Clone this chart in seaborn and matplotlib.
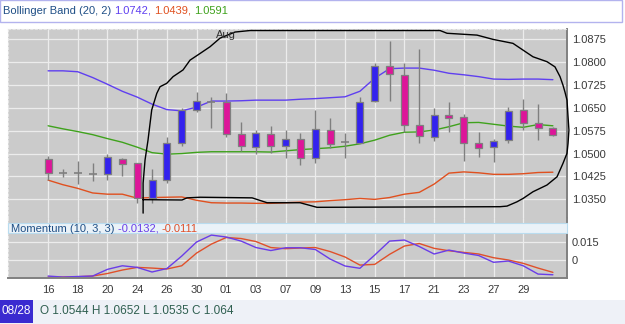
"""Bollinger band candlestick chart with a momentum sub-panel."""
import matplotlib

matplotlib.use("Agg")
import matplotlib.pyplot as plt  # noqa: E402
import matplotlib.transforms as mtransforms  # noqa: E402
import numpy as np  # noqa: E402
import pandas as pd  # noqa: E402
import seaborn as sns  # noqa: E402
from matplotlib.patches import Rectangle  # noqa: E402

sns.set_theme(style="white")
plt.rcParams["font.family"] = ["Liberation Sans", "DejaVu Sans"]

# ---------------------------------------------------------------------------
# data (Jul 16 - Aug 31, daily)
# ---------------------------------------------------------------------------
days = ["16", "17", "18", "19", "20", "23", "24", "25", "26", "27", "30", "31",
        "01", "02", "03", "06", "07", "08", "09", "10", "13", "14", "15", "16",
        "17", "20", "21", "22", "23", "24", "27", "28", "29", "30", "31"]
opens = [1.0481, 1.0439, 1.0436, 1.0434, 1.0432, 1.0483, 1.0468, 1.0356, 1.0413,
         1.0536, 1.0642, 1.0672, 1.0669, 1.0563, 1.0520, 1.0563, 1.0524, 1.0549,
         1.0486, 1.0577, 1.0539, 1.0535, 1.0673, 1.0787, 1.0758, 1.0595, 1.0555,
         1.0625, 1.0621, 1.0533, 1.0520, 1.0544, 1.0642, 1.0600, 1.0585]
highs = [1.0492, 1.0449, 1.0475, 1.0468, 1.0497, 1.0485, 1.0469, 1.0449, 1.0555,
         1.0648, 1.0702, 1.0686, 1.0699, 1.0602, 1.0577, 1.0590, 1.0577, 1.0566,
         1.0642, 1.0615, 1.0566, 1.0686, 1.0797, 1.0869, 1.0797, 1.0842, 1.0650,
         1.0668, 1.0631, 1.0570, 1.0549, 1.0652, 1.0679, 1.0662, 1.0586]
lows = [1.0415, 1.0422, 1.0400, 1.0411, 1.0415, 1.0427, 1.0338, 1.0338, 1.0402,
        1.0525, 1.0637, 1.0584, 1.0555, 1.0509, 1.0500, 1.0502, 1.0487, 1.0462,
        1.0469, 1.0517, 1.0484, 1.0533, 1.0670, 1.0673, 1.0571, 1.0533, 1.0542,
        1.0571, 1.0475, 1.0489, 1.0473, 1.0535, 1.0577, 1.0546, 1.0559]
closes = [1.0435, 1.0437, 1.0435, 1.0433, 1.0489, 1.0465, 1.0356, 1.0412, 1.0536,
          1.0642, 1.0673, 1.0670, 1.0563, 1.0524, 1.0566, 1.0524, 1.0549, 1.0486,
          1.0582, 1.0531, 1.0537, 1.0669, 1.0787, 1.0762, 1.0594, 1.0557, 1.0625,
          1.0617, 1.0533, 1.0519, 1.0542, 1.0640, 1.0600, 1.0585, 1.0560]

bb_upper = [1.0771, 1.0771, 1.0768, 1.0749, 1.0727, 1.0704, 1.0685, 1.0662, 1.0644,
            1.0640, 1.0652, 1.0672, 1.0672, 1.0673, 1.0675, 1.0675, 1.0675, 1.0678,
            1.0680, 1.0683, 1.0686, 1.0704, 1.0747, 1.0778, 1.0780, 1.0780, 1.0773,
            1.0763, 1.0758, 1.0752, 1.0744, 1.0743, 1.0744, 1.0744, 1.0742]
bb_middle = [1.0591, 1.0581, 1.0572, 1.0562, 1.0549, 1.0537, 1.0521, 1.0503, 1.0498,
             1.0500, 1.0504, 1.0506, 1.0506, 1.0506, 1.0506, 1.0505, 1.0509, 1.0513,
             1.0516, 1.0519, 1.0524, 1.0532, 1.0544, 1.0560, 1.0570, 1.0571, 1.0577,
             1.0588, 1.0601, 1.0602, 1.0596, 1.0590, 1.0586, 1.0595, 1.0591]
bb_lower = [1.0413, 1.0398, 1.0386, 1.0371, 1.0367, 1.0367, 1.0354, 1.0356, 1.0357,
            1.0358, 1.0347, 1.0339, 1.0338, 1.0338, 1.0337, 1.0337, 1.0339, 1.0341,
            1.0342, 1.0346, 1.0349, 1.0353, 1.0350, 1.0356, 1.0367, 1.0373, 1.0400,
            1.0436, 1.0440, 1.0437, 1.0432, 1.0432, 1.0434, 1.0438, 1.0439]

momentum = [-0.0143, -0.0152, -0.0147, -0.0143, -0.0085, -0.0054, -0.0068, -0.0108,
            -0.0078, 0.0030, 0.0152, 0.0212, 0.0195, 0.0160, 0.0104, 0.0078, 0.0102,
            0.0102, 0.0087, 0.0004, -0.0056, -0.0076, 0.0039, 0.0160, 0.0169, 0.0113,
            0.0048, 0.0082, 0.0056, 0.0035, -0.0024, -0.0013, -0.0054, -0.0126, -0.0132]
momentum_signal = [-0.0152, -0.0152, -0.0149, -0.0143, -0.0121, -0.0091, -0.0068,
                   -0.0074, -0.0082, -0.0054, 0.0056, 0.0134, 0.0191, 0.0182, 0.0156,
                   0.0104, 0.0094, 0.0100, 0.0104, 0.0069, 0.0022, -0.0048, -0.0042,
                   0.0045, 0.0117, 0.0139, 0.0097, 0.0076, 0.0062, 0.0048, 0.0016,
                   -0.0004, -0.0033, -0.0074, -0.0111]

# hand-drawn annotation loop (candle index, price)
loop_x = [6.40, 6.40, 6.53, 6.73, 6.98, 7.32, 7.54, 7.99, 8.42, 9.09, 9.56, 10.24,
          10.91, 11.58, 12.59, 13.60, 26.40, 26.87, 28.89, 29.97, 31.31, 32.66,
          33.60, 34.14, 34.48, 34.68, 34.81, 34.95, 35.02, 35.08, 35.02, 34.95,
          34.68, 34.28, 33.60, 32.66, 31.99, 31.58, 30.91, 30.44, 18.11, 16.97,
          14.75, 13.74, 10.24, 9.36, 9.02, 6.40]
loop_y = [1.0305, 1.0403, 1.0479, 1.0544, 1.0643, 1.0697, 1.0719, 1.0730, 1.0752,
          1.0774, 1.0806, 1.0828, 1.0850, 1.0878, 1.0898, 1.0903, 1.0903, 1.0894,
          1.0888, 1.0874, 1.0861, 1.0817, 1.0801, 1.0784, 1.0752, 1.0724, 1.0702,
          1.0675, 1.0621, 1.0577, 1.0533, 1.0501, 1.0468, 1.0424, 1.0397, 1.0375,
          1.0353, 1.0342, 1.0328, 1.0326, 1.0324, 1.0339, 1.0339, 1.0355, 1.0357,
          1.0355, 1.0348, 1.0349]

price_ticks = [1.0350, 1.0425, 1.0500, 1.0575, 1.0650, 1.0725, 1.0800, 1.0875]
mom_ticks = [0.0, 0.015, 0.03]
mom_tick_labels = ["0", "0.015", ""]

# ---------------------------------------------------------------------------
# colours
# ---------------------------------------------------------------------------
BG = "#cbcbcb"
GRID = "#ececec"
UP_C = "#3322ee"
DOWN_C = "#dd1599"
WICK = "#7f7f7f"
UPPER_C = "#5f3ff0"
MID_C = "#3fa21c"
LOWER_C = "#e0501f"
MOM_C = "#6a3de8"
SIG_C = "#e0502a"
LABEL_C = "#1f4f86"
TICK_C = "#3a3a3a"

W, H = 625, 324
fig = plt.figure(figsize=(W / 100, H / 100), dpi=100)
fig.patch.set_facecolor("white")

left, right = 8, 567
ax = fig.add_axes([left / W, 1 - 218 / H, (right - left) / W, (218 - 29) / H])
axm = fig.add_axes([left / W, 1 - 278 / H, (right - left) / W, (278 - 218) / H])

df = pd.DataFrame({
    "i": np.arange(len(days)), "open": opens, "high": highs, "low": lows,
    "close": closes, "upper": bb_upper, "middle": bb_middle, "lower": bb_lower,
    "mom": momentum, "signal": momentum_signal,
})

xlim = (-2.7, 34.95)
tick_idx = list(range(0, len(days) - 2, 2))

for a in (ax, axm):
    a.set_facecolor(BG)
    a.set_xlim(*xlim)
    a.set_xticks(tick_idx)
    a.grid(True, color=GRID, lw=0.9)
    a.set_axisbelow(True)
    a.tick_params(length=0, labelsize=8, colors=TICK_C)
    a.yaxis.tick_right()
    for s in ("left", "top"):
        a.spines[s].set_color("#e6e6e6")
        a.spines[s].set_linestyle((0, (2, 2)))
        a.spines[s].set_linewidth(0.8)
    a.spines["right"].set_color("#808080")
    a.spines["right"].set_linewidth(1.4)

ax.spines["bottom"].set_visible(False)
axm.spines["top"].set_visible(False)
axm.spines["bottom"].set_color("#808080")
axm.spines["bottom"].set_linewidth(1.4)

# ---------------------------------------------------------------------------
# price panel
# ---------------------------------------------------------------------------
ax.set_ylim(1.0289, 1.0908)
ax.set_yticks(price_ticks)
ax.set_yticklabels([f"{v:.4f}" for v in price_ticks])
ax.set_xticklabels([])
ax.tick_params(axis="y", pad=3.5)

sns.lineplot(data=df, x="i", y="upper", color=UPPER_C, lw=1, ax=ax, legend=False)
sns.lineplot(data=df, x="i", y="middle", color=MID_C, lw=1, ax=ax, legend=False)
sns.lineplot(data=df, x="i", y="lower", color=LOWER_C, lw=1, ax=ax, legend=False)

ax.vlines(df["i"], df["low"], df["high"], color=WICK, lw=1, zorder=3)
body_w = 0.47
for r in df.itertuples():
    if abs(r.close - r.open) < 0.0004:
        ax.hlines(r.close, r.i - 0.27, r.i + 0.27, color=WICK, lw=1.2, zorder=4)
        continue
    col = UP_C if r.close > r.open else DOWN_C
    ax.bar(r.i, abs(r.close - r.open), bottom=min(r.open, r.close), width=body_w,
           color=col, edgecolor=WICK, linewidth=0.9, zorder=4)

ax.plot(loop_x, loop_y, color="black", lw=1, clip_on=False, zorder=6)

trans = mtransforms.blended_transform_factory(ax.transData, ax.transAxes)
ax.text(days.index("01"), 0.968, "Aug", transform=trans, ha="center", va="center",
        fontsize=8, color="#333333", zorder=7)
ax.set_xlabel("")
ax.set_ylabel("")

# ---------------------------------------------------------------------------
# momentum panel
# ---------------------------------------------------------------------------
axm.set_ylim(-0.0160, 0.0360)
axm.set_yticks(mom_ticks)
axm.set_yticklabels(mom_tick_labels)
axm.set_xticklabels([days[i] for i in tick_idx])
axm.tick_params(axis="x", pad=5)
axm.tick_params(axis="y", pad=3.5)
sns.lineplot(data=df, x="i", y="signal", color=SIG_C, lw=1, ax=axm, legend=False)
sns.lineplot(data=df, x="i", y="mom", color=MOM_C, lw=1, ax=axm, legend=False)
axm.set_xlabel("")
axm.set_ylabel("")
axm.add_patch(Rectangle((0, 0.75), 1, 0.1667, transform=axm.transAxes,
                        facecolor="#eaf2f8", edgecolor="#b9dcef", lw=0.8,
                        zorder=5, clip_on=False))

# ---------------------------------------------------------------------------
# header / footer bars
# ---------------------------------------------------------------------------
renderer = fig.canvas.get_renderer()


def put_segments(x_px, y_px, segments, size=8, **kw):
    x = x_px
    for txt, col in segments:
        t = fig.text(x / W, 1 - y_px / H, txt, color=col, fontsize=size,
                     ha="left", va="center", zorder=10, **kw)
        x += t.get_window_extent(renderer).width


fig.patches.append(Rectangle((0, 1 - 22 / H), 622 / W, 22 / H, transform=fig.transFigure,
                             facecolor="white", edgecolor="#b3b3ee", lw=1, zorder=1))
put_segments(3, 11, [("Bollinger Band (20, 2) ", LABEL_C), ("1.0742", UPPER_C),
                     (", ", UPPER_C), ("1.0439", LOWER_C), (", ", LOWER_C),
                     ("1.0591", MID_C)])
put_segments(11, 228.5, [("Momentum (10, 3, 3) ", LABEL_C), ("-0.0132, ", MOM_C),
                         ("-0.0111", SIG_C)])

fig.patches.append(Rectangle((0, 0), 1, 24 / H, transform=fig.transFigure,
                             facecolor="#eef1f7", edgecolor="none", zorder=1))
fig.patches.append(Rectangle((0, 1 / H), 33 / W, 23 / H, transform=fig.transFigure,
                             facecolor="#3a2bd0", edgecolor="none", zorder=2))
fig.text(16.5 / W, 1 - 311.5 / H, "08/28", color="white", fontsize=8.5,
         ha="center", va="center", zorder=10)
put_segments(40, 311.5, [("O 1.0544 H 1.0652 L 1.0535 C 1.064", "#2f5f50")], size=8.5)

fig.savefig("out.png", dpi=100)
plt.close(fig)
